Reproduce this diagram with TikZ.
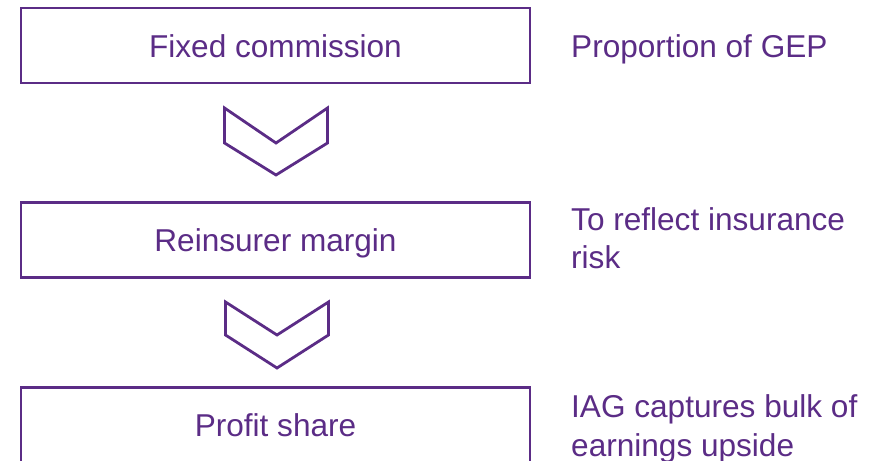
\documentclass[tikz,border=0pt]{standalone}
\usepackage{fontspec}
\setmainfont{Liberation Sans}
\usepackage{tikz}
\usetikzlibrary{positioning, calc}
\definecolor{iagpurple}{HTML}{5B2C86}

\begin{document}
\begin{tikzpicture}[x=1bp, y=-1bp,
  stagebox/.style={draw=iagpurple, line width=2.8bp, minimum width=509bp, minimum height=75bp, inner sep=0pt, text height=23.4bp, text depth=0bp, text=iagpurple, font=\fontsize{31.7}{38}\selectfont},
  note/.style={anchor=base west, align=left, inner sep=0pt, text=iagpurple, font=\fontsize{31.7}{39}\selectfont},
  chevron/.style={draw=iagpurple, line width=2.8bp, line join=miter}]
\useasboundingbox (0,0) rectangle (887,461);
\clip (0,0) rectangle (887,461);
% Stage boxes
\node[stagebox] (fixed) at (275.5,45.5) {Fixed commission};
\node[stagebox] (margin) at (275.5,240) {Reinsurer margin};
\node[stagebox] (share) at (275.5,425) {Profit share};
% Chevrons between stages
\draw[chevron] (224.5,108) -- (276,143) -- (327.5,108) -- (327.5,143) -- (276,175) -- (224.5,143) -- cycle;
\draw[chevron] (225.5,302) -- (277,335) -- (328.5,302) -- (328.5,335) -- (277,368) -- (225.5,335) -- cycle;
% Notes on the right (base = last line)
\node[note] (gep) at (571,57.5) {Proportion of GEP};
\node[note] (risk) at (571,269) {To reflect insurance\\risk};
\node[note] (upside) at (571,456.7) {IAG captures bulk of\\earnings upside};
\end{tikzpicture}
\end{document}
